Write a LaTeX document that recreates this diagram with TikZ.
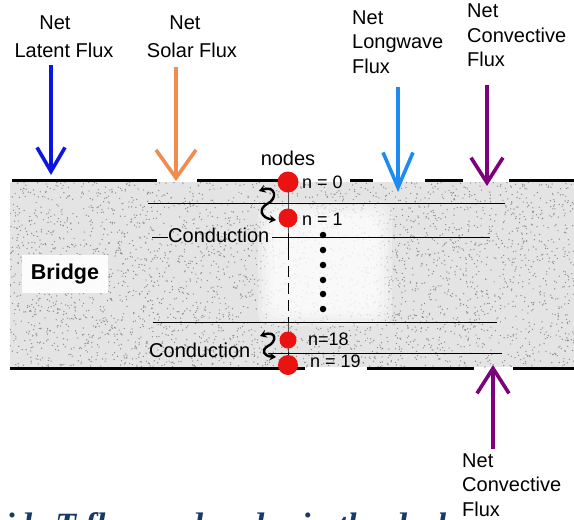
\documentclass[tikz,border=0pt]{standalone}
\usepackage{fontspec}
\setmainfont{Liberation Sans}
\newfontfamily\captionserif{Liberation Serif}
\usetikzlibrary{arrows.meta}
\definecolor{latentblue}{RGB}{12,22,225}
\definecolor{solarorange}{RGB}{240,140,80}
\definecolor{lwblue}{RGB}{28,140,240}
\definecolor{convpurple}{RGB}{125,0,125}
\definecolor{nodered}{RGB}{235,18,18}
\definecolor{captionblue}{RGB}{25,58,105}
\definecolor{bandgray}{RGB}{228,228,228}
\definecolor{speckgray}{RGB}{140,140,140}
\begin{document}
\begin{tikzpicture}[x=1pt,y=-1pt,
  lbl/.style={font=\fontsize{20}{24.5}\selectfont, inner sep=0pt, align=left, text=black},
  smalllbl/.style={font=\fontsize{18}{22}\selectfont, inner sep=0pt, anchor=base west},
  fluxarrow/.style n args={3}{draw=#1, line width=3.6pt, -{Straight Barb[length=#2pt, width=#3pt]}},
  surface/.style={line width=3pt, black},
  layerline/.style={line width=0.9pt, black},
  colline/.style={line width=0.9pt, black},
  rednode/.style={circle, fill=nodered, inner sep=0pt, minimum size=#1pt},
  tinydot/.style={circle, fill=black, inner sep=0pt, minimum size=6.5pt},
  twist/.style={line width=2.4pt, {Stealth[length=6.5pt,width=8pt]}-{Stealth[length=6.5pt,width=8pt]}}
]
\useasboundingbox (0,0) rectangle (574,520);
\fill[white] (0,0) rectangle (574,520);

% ---- bridge body (stippled band)
\fill[bandgray] (10,182) rectangle (574,367);
\begin{scope}
  \clip (10,182) rectangle (574,367);
  \pgfmathsetseed{42}
  \foreach \i in {1,...,3600}{
    \pgfmathsetmacro\xx{10+564*rnd}
    \pgfmathsetmacro\yy{182+185*rnd}
    \fill[speckgray] (\xx,\yy) circle (0.7pt);
  }
\end{scope}
% lighter, soft-edged patch around the node column
\foreach \d in {0,4,8,12,16}{
  \fill[white, opacity=0.28, rounded corners=14pt]
    (258+\d,202+\d) rectangle (392-\d,326-\d);
}

% ---- coordinates of the node column
\coordinate (p0) at (288,182);
\coordinate (p1) at (288,218);
\coordinate (pd1) at (288,249);
\coordinate (pd2) at (288,322);
\coordinate (p18) at (288,340);
\coordinate (p19) at (288,365);

% ---- top and bottom surfaces
\coordinate (t1) at (12,180);   \coordinate (t2) at (157,180);
\coordinate (t3) at (197,180);  \coordinate (t4) at (283,180);
\coordinate (t5) at (350,180);  \coordinate (t6) at (373,180);
\coordinate (t7) at (425,180);  \coordinate (t8) at (463,180);
\coordinate (t9) at (509,180);  \coordinate (t10) at (574,180);
\draw[surface] (t1) -- (t2);
\draw[surface] (t3) -- (t4);
\draw[surface] (t5) -- (t6);
\draw[surface] (t7) -- (t8);
\draw[surface] (t9) -- (t10);
\coordinate (b1) at (10,368);   \coordinate (b2) at (305,368);
\coordinate (b3) at (367,368);  \coordinate (b4) at (474,368);
\coordinate (b5) at (513,368);  \coordinate (b6) at (574,368);
\draw[surface] (b1) -- (b2);
\draw[surface] (b3) -- (b4);
\draw[surface] (b5) -- (b6);

% ---- layer lines
\coordinate (l1a) at (148,203); \coordinate (l1b) at (505,203);
\draw[layerline] (l1a) -- (l1b);
\coordinate (l3a) at (153,322); \coordinate (l3b) at (497,322);
\draw[layerline] (l3a) -- (l3b);
\coordinate (l4a) at (268,353); \coordinate (l4b) at (502,353);
\draw[layerline] (l4a) -- (l4b);

% ---- conduction labels
\node[lbl, anchor=base west] (cond1) at (168,242) {Conduction};
\coordinate (l2a) at (152,237); \coordinate (l2b) at (490,237);
\draw[layerline] (l2a) -- (cond1.west |- l2a);
\draw[layerline] (cond1.east |- l2b) ++(2,0) -- (l2b);
\node[lbl, anchor=base west] (cond2) at (149,357) {Conduction};

% ---- vertical line through the nodes
\draw[colline] (p0) -- (p1) -- (pd1);
\draw[colline, dash pattern=on 11pt off 6pt] (pd1) -- (pd2);
\draw[colline] (pd2) -- (p18) -- (p19);

% ---- twisted conduction arrows
\coordinate (tw1a) at (259,191); \coordinate (tw1b) at (276,220);
\draw[twist] (tw1a) .. controls (276,185) and (278,199) .. (267,204)
             .. controls (258,209) and (261,218) .. (tw1b);
\coordinate (tw2a) at (260,336); \coordinate (tw2b) at (276,357);
\draw[twist] (tw2a) .. controls (277,330) and (277,342) .. (268,346)
             .. controls (261,350) and (263,356) .. (tw2b);

% ---- nodes
\node[rednode=21] (n0) at (p0) {};
\node[rednode=19] (n1) at (p1) {};
\node[rednode=17] (n18) at (p18) {};
\node[rednode=18, minimum width=20pt] (n19) at (p19) {};
\node[lbl, anchor=base] (nodeslbl) at (288,165) {nodes};
\node[smalllbl] (n0lbl) at (302,188) {n = 0};
\node[smalllbl] (n1lbl) at (302,225) {n = 1};
\node[smalllbl] (n18lbl) at (308,345) {n=18};
\node[smalllbl] (n19lbl) at (310,367) {n = 19};

% ---- continuation dots
\foreach \k/\yy in {a/235,b/250,c/265,d/280,e/294,f/309}{
  \node[tinydot] (dot\k) at (323,\yy) {};
}

% ---- bridge label
\node[fill=white, fill opacity=0.92, text opacity=1, inner sep=0pt,
      minimum width=86pt, minimum height=38pt,
      font=\bfseries\fontsize{21.5}{24}\selectfont] (bridge) at (65,274) {Bridge};

% ---- flux arrows
\coordinate (latS) at (51,65);  \coordinate (latE) at (51,175);
\draw[fluxarrow={latentblue}{24}{28}] (latS) -- (latE);
\coordinate (solS) at (176,67); \coordinate (solE) at (176,181);
\draw[fluxarrow={solarorange}{28}{40}] (solS) -- (solE);
\coordinate (lwS) at (398,87);  \coordinate (lwE) at (398,192);
\draw[fluxarrow={lwblue}{35}{30}] (lwS) -- (lwE);
\coordinate (cvS) at (487,85);  \coordinate (cvE) at (487,186);
\draw[fluxarrow={convpurple}{25}{32}] (cvS) -- (cvE);
\coordinate (cbS) at (493,449); \coordinate (cbE) at (493,365);
\draw[fluxarrow={convpurple}{25}{32}] (cbS) -- (cbE);

% ---- flux labels
\node[lbl, anchor=base] (latNet) at (55,29) {Net};
\node[lbl, anchor=base] (latLbl) at (64,57) {Latent Flux};
\node[lbl, anchor=base] (solNet) at (185,29) {Net};
\node[lbl, anchor=base] (solLbl) at (192,57) {Solar Flux};
\node[lbl, anchor=north west] (lwLbl) at (352,10.5) {Net\\Longwave\\Flux};
\node[lbl, anchor=north west] (cvLbl) at (467,4) {Net\\Convective\\Flux};
\node[lbl, anchor=north west] (cbLbl) at (462,453.5) {Net\\Convective\\Flux};

% ---- caption cut off by the lower edge (only the tops of its letters show)
\begin{scope}
  \clip (0,0) rectangle (574,520);
  \node[anchor=base west, inner sep=0pt, text=captionblue,
        font=\captionserif\bfseries\itshape\fontsize{34}{38}\selectfont] (caption)
        at (-111,536) {Bridge side T flux and nodes in the deck};
\end{scope}
\end{tikzpicture}
\end{document}
